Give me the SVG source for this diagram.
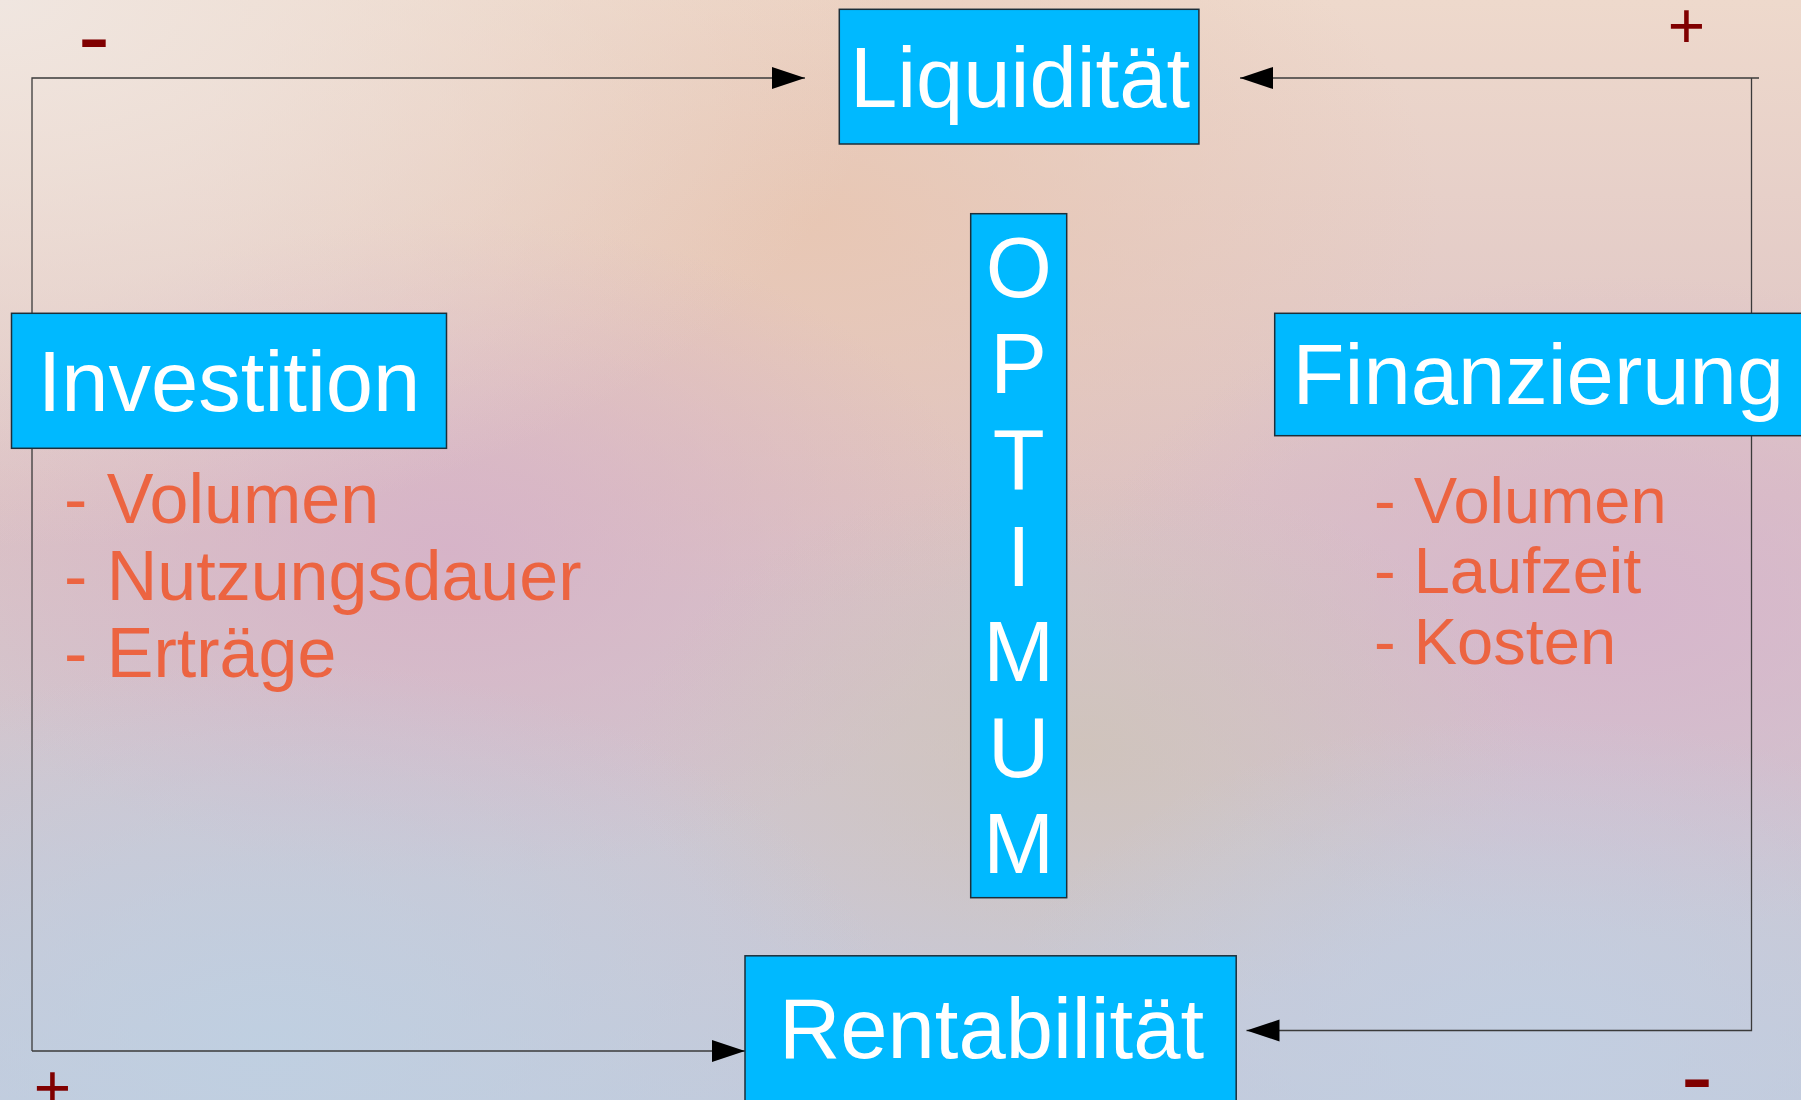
<svg xmlns="http://www.w3.org/2000/svg" width="1801" height="1100" viewBox="0 0 1801 1100">
<defs>
<linearGradient id="bgBase" x1="0" y1="0" x2="0" y2="1">
<stop offset="0" stop-color="#eed9cc"/>
<stop offset="0.45" stop-color="#dcc2c4"/>
<stop offset="1" stop-color="#c3cadb"/>
</linearGradient>
<radialGradient id="gTL" cx="0" cy="0" r="1" gradientUnits="objectBoundingBox">
<stop offset="0" stop-color="#f0e6e0" stop-opacity="1"/>
<stop offset="0.5" stop-color="#eedfd4" stop-opacity="0"/>
</radialGradient>
<radialGradient id="gPeach" cx="0.45" cy="0.2" r="0.35">
<stop offset="0" stop-color="#e8c6b2" stop-opacity="0.9"/>
<stop offset="1" stop-color="#e8c6b2" stop-opacity="0"/>
</radialGradient>
<radialGradient id="gPinkL" cx="0.25" cy="0.5" r="0.3">
<stop offset="0" stop-color="#d6b2c8" stop-opacity="0.9"/>
<stop offset="1" stop-color="#d6b2c8" stop-opacity="0"/>
</radialGradient>
<radialGradient id="gPinkR" cx="0.9" cy="0.55" r="0.3">
<stop offset="0" stop-color="#d6b4cc" stop-opacity="0.9"/>
<stop offset="1" stop-color="#d6b4cc" stop-opacity="0"/>
</radialGradient>
<radialGradient id="gGrey" cx="0.6" cy="0.68" r="0.25">
<stop offset="0" stop-color="#cfc3b8" stop-opacity="0.8"/>
<stop offset="1" stop-color="#cfc3b8" stop-opacity="0"/>
</radialGradient>
<radialGradient id="gBlueL" cx="0.15" cy="0.95" r="0.35">
<stop offset="0" stop-color="#bfd0e2" stop-opacity="0.9"/>
<stop offset="1" stop-color="#bfd0e2" stop-opacity="0"/>
</radialGradient>
<radialGradient id="gBlueR" cx="0.85" cy="0.95" r="0.3">
<stop offset="0" stop-color="#c2cfe2" stop-opacity="0.9"/>
<stop offset="1" stop-color="#c2cfe2" stop-opacity="0"/>
</radialGradient>
<marker id="arrow" markerUnits="userSpaceOnUse" markerWidth="34" markerHeight="24" refX="33" refY="11" orient="auto">
<path d="M0,0 L33,11 L0,22 z" fill="#000"/>
</marker>
<style>
.box { fill: #00b9ff; stroke: #1c2f3a; stroke-width: 1.5; }
.lbl { font-family: "Liberation Sans", Arial, sans-serif; font-size: 85px; fill: #ffffff; }
.mid { text-anchor: middle; }
.item { font-family: "Liberation Sans", Arial, sans-serif; fill: #ec6441; }
.sign { font-family: "Liberation Sans", Arial, sans-serif; fill: #800000; }
.conn { fill: none; stroke: #3a3a3a; stroke-width: 1.3; }
</style>
</defs>

<g id="background">
<rect x="0" y="0" width="1801" height="1100" fill="url(#bgBase)"/>
<rect x="0" y="0" width="1801" height="1100" fill="url(#gPeach)"/>
<rect x="0" y="0" width="1801" height="1100" fill="url(#gPinkL)"/>
<rect x="0" y="0" width="1801" height="1100" fill="url(#gPinkR)"/>
<rect x="0" y="0" width="1801" height="1100" fill="url(#gGrey)"/>
<rect x="0" y="0" width="1801" height="1100" fill="url(#gBlueL)"/>
<rect x="0" y="0" width="1801" height="1100" fill="url(#gBlueR)"/>
<rect x="0" y="0" width="1801" height="1100" fill="url(#gTL)"/>
</g>

<g id="connectors">
<polyline class="conn" points="32,1051 32,78 805,78" marker-end="url(#arrow)"/>
<polyline class="conn" points="32,1051 745,1051" marker-end="url(#arrow)"/>
<polyline class="conn" points="1759,78 1240,78" marker-end="url(#arrow)"/>
<polyline class="conn" points="1751.5,78 1751.5,1030.5 1246.5,1030.5" marker-end="url(#arrow)"/>
</g>

<g id="signs">
<text class="sign" x="78" y="69" font-size="96">-</text>
<text class="sign mid" x="1686.5" y="48" font-size="64">+</text>
<text class="sign mid" x="52.5" y="1110" font-size="64">+</text>
<text class="sign" x="1681" y="1109" font-size="96">-</text>
</g>

<g id="node-liquiditaet">
<rect class="box" x="839.3" y="9.3" width="359.6" height="134.7"/>
<text class="lbl mid" x="1020" y="106.7">Liquidität</text>
</g>

<g id="node-optimum">
<rect class="box" x="970.7" y="213.7" width="96" height="684"/>
<text class="lbl mid" x="1018.7" y="297">O</text>
<text class="lbl mid" x="1018.7" y="393">P</text>
<text class="lbl mid" x="1018.7" y="489">T</text>
<text class="lbl mid" x="1018.7" y="585.5">I</text>
<text class="lbl mid" x="1018.7" y="681">M</text>
<text class="lbl mid" x="1018.7" y="777">U</text>
<text class="lbl mid" x="1018.7" y="872.5">M</text>
</g>

<g id="node-investition">
<rect class="box" x="11.5" y="313.3" width="435" height="135"/>
<text class="lbl mid" x="229" y="410.7">Investition</text>
<text class="item" x="64" y="523.4" font-size="70">- Volumen</text>
<text class="item" x="64" y="600.1" font-size="70">- Nutzungsdauer</text>
<text class="item" x="64" y="677.2" font-size="70">- Erträge</text>
</g>

<g id="node-finanzierung">
<rect class="box" x="1274.7" y="313.3" width="540" height="122.4"/>
<text class="lbl" x="1292.6" y="404.3">Finanzierung</text>
<text class="item" x="1374" y="522.6" font-size="65">- Volumen</text>
<text class="item" x="1374" y="593" font-size="65">- Laufzeit</text>
<text class="item" x="1374" y="664.3" font-size="65">- Kosten</text>
</g>

<g id="node-rentabilitaet">
<rect class="box" x="745" y="955.8" width="491.2" height="160"/>
<text class="lbl mid" x="991.5" y="1058">Rentabilität</text>
</g>
</svg>
